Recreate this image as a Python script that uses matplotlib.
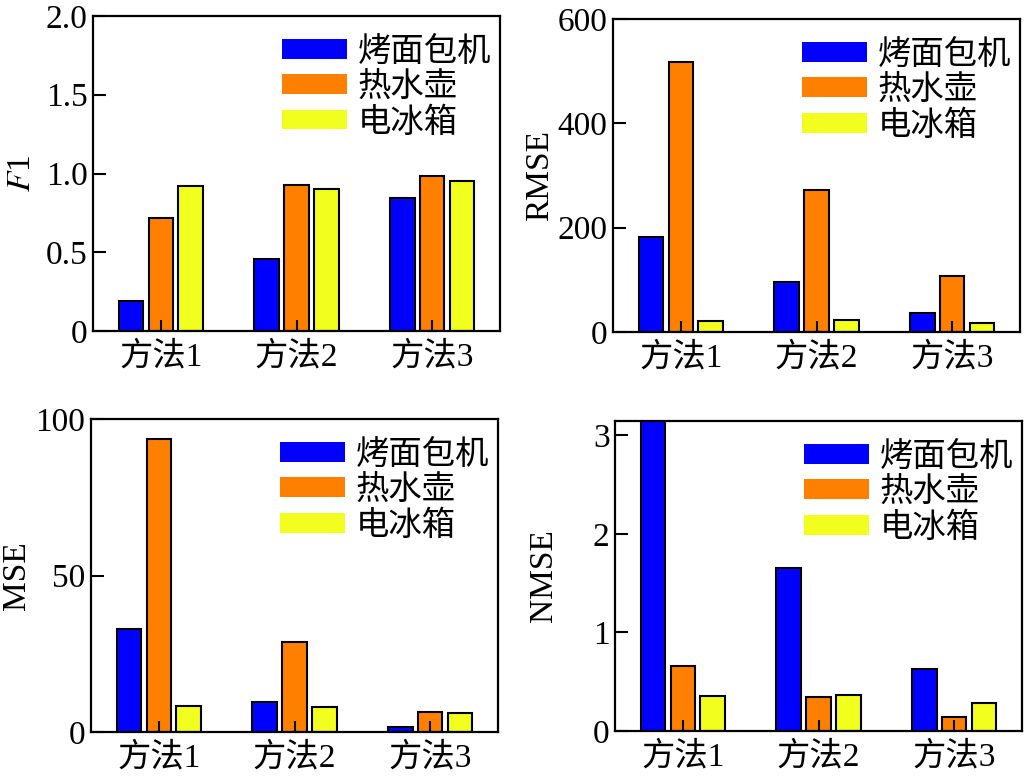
import matplotlib
matplotlib.use("Agg")
import matplotlib.pyplot as plt
from matplotlib.patches import Patch
from matplotlib.ticker import FixedLocator, FixedFormatter
import numpy as np

plt.rcParams['font.family'] = ['Liberation Serif', 'Noto Sans CJK SC', 'DejaVu Sans']
plt.rcParams['mathtext.fontset'] = 'stix'
plt.rcParams['font.size'] = 24

# data
methods = ['方法1', '方法2', '方法3']
devices = ['烤面包机', '热水壶', '电冰箱']
colors = ['#0000ff', '#ff8000', '#f2ff1e']

f1_vals = [[0.19, 0.46, 0.845],     # 烤面包机
           [0.72, 0.93, 0.985],     # 热水壶
           [0.92, 0.90, 0.95]]      # 电冰箱
rmse_vals = [[182, 96, 36.5],
             [517, 273, 107.5],
             [21, 23, 18]]
mse_vals = [[33.0, 9.6, 1.6],
            [93.5, 28.8, 6.4],
            [8.3, 8.0, 6.1]]
nmse_vals = [[3.3, 1.655, 0.63],
             [0.66, 0.35, 0.14],
             [0.36, 0.37, 0.285]]

f1_ticks = [0, 0.5, 1.0, 1.5, 2.0]
f1_labels = ['0', '0.5', '1.0', '1.5', '2.0']
rmse_ticks = [0, 200, 400, 600]
mse_ticks = [0, 50, 100]
nmse_ticks = [0, 1, 2, 3]

W, H = 1026, 779
fig = plt.figure(figsize=(W / 100, H / 100), dpi=100)


def px_axes(l, t, r, b):
    return fig.add_axes([l / W, (H - b) / H, (r - l) / W, (b - t) / H])


def draw(ax, vals, ylabel, ylim, ticks, labels, lx):
    x = np.arange(len(methods))
    for i, v in enumerate(vals):
        ax.bar(x + (i - 1) * 0.22, v, width=0.18, color=colors[i],
               edgecolor='black', linewidth=1.5)
    ax.set_xlim(-0.5, 2.5)
    ax.set_ylim(*ylim)
    ax.set_xticks(x)
    ax.set_xticklabels(methods)
    ax.yaxis.set_major_locator(FixedLocator(ticks))
    ax.yaxis.set_major_formatter(FixedFormatter(labels))
    ax.tick_params(axis='y', direction='in', length=9.5, width=1.5, pad=4)
    ax.tick_params(axis='x', direction='in', length=8, width=1.5, pad=8)
    for s in ax.spines.values():
        s.set_linewidth(1.6)
    ax.set_ylabel(ylabel)
    ax.yaxis.set_label_coords(lx, 0.5)
    # legend patches have no outline in the original
    handles = [Patch(facecolor=c, edgecolor='none') for c in colors]
    ax.legend(handles, devices, loc='upper right', frameon=False,
              bbox_to_anchor=(1.035, 1.008),
              handlelength=1.97, handleheight=0.53, handletextpad=0.3,
              labelspacing=0.12, borderaxespad=0.3, fontsize=24)


ax1 = px_axes(93, 16, 500, 331)
draw(ax1, f1_vals, '$F$1', (0, 2.0), f1_ticks, f1_labels, -0.137)

ax2 = px_axes(613, 19, 1020, 332)
draw(ax2, rmse_vals, 'RMSE', (0, 600), rmse_ticks,
     [str(t) for t in rmse_ticks], -0.143)

ax3 = px_axes(91, 419, 498, 732)
draw(ax3, mse_vals, 'MSE', (0, 100), mse_ticks,
     [str(t) for t in mse_ticks], -0.145)

ax4 = px_axes(615, 421, 1022, 731)
draw(ax4, nmse_vals, 'NMSE', (0, 3.145), nmse_ticks,
     [str(t) for t in nmse_ticks], -0.138)

fig.savefig('out.png', dpi=100)
